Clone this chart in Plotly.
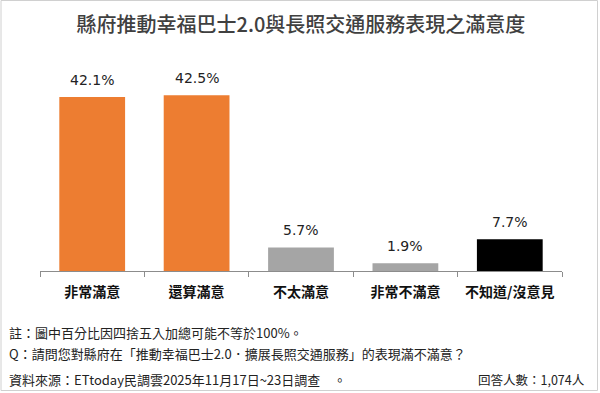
import plotly.graph_objects as go

categories = ["非常滿意", "還算滿意", "不太滿意", "非常不滿意", "不知道/沒意見"]
values = [42.1, 42.5, 5.7, 1.9, 7.7]
colors = ["#ED7D31", "#ED7D31", "#A5A5A5", "#A5A5A5", "#000000"]
value_labels = [f"{v:.1f}%" for v in values]

title_text = "縣府推動幸福巴士2.0與長照交通服務表現之滿意度"
note1 = "註：圖中百分比因四捨五入加總可能不等於100%。"
note2 = "Q：請問您對縣府在「推動幸福巴士2.0．擴展長照交通服務」的表現滿不滿意？"
note3 = "資料來源：ETtoday民調雲2025年11月17日~23日調查　。"
note4 = "回答人數：1,074人"

CJK = "Noto Sans CJK TC"
L, R, T, B = 40, 38, 60, 122
W, H = 600, 393
pw, ph = W - L - R, H - T - B

def px(x):
    return (x - L) / pw

def py(y):
    return (H - B - y) / ph

fig = go.Figure()
fig.add_trace(go.Bar(
    x=categories, y=values, marker=dict(color=colors, line=dict(width=0)),
    hoverinfo="skip", showlegend=False,
))

for c, v, t in zip(categories, values, value_labels):
    fig.add_annotation(x=c, y=v, text=t, showarrow=False, yanchor="bottom",
                       yshift=7, font=dict(family="DejaVu Sans", size=14, color="#222222"))

for txt, y in [(note1, 332), (note2, 353), (note3, 379)]:
    fig.add_annotation(xref="paper", yref="paper", x=px(7), y=py(y), text=txt,
                       showarrow=False, xanchor="left", yanchor="middle",
                       font=dict(family=CJK, size=13, color="#222222"))
fig.add_annotation(xref="paper", yref="paper", x=px(587), y=py(379), text=note4,
                   showarrow=False, xanchor="right", yanchor="middle",
                   font=dict(family=CJK, size=12.5, color="#222222"))

fig.add_shape(type="rect", xref="paper", yref="paper",
              x0=px(1), x1=px(597.5), y0=py(390.5), y1=py(0.5),
              line=dict(color="#D0D0D0", width=1), fillcolor="rgba(0,0,0,0)", layer="below")

fig.update_layout(
    width=W, height=H,
    margin=dict(l=L, r=R, t=T, b=B),
    paper_bgcolor="white", plot_bgcolor="white",
    title=dict(text=title_text, x=0.5, xanchor="center", xref="paper",
               y=1 - 25 / H, yanchor="middle",
               font=dict(family=CJK, size=20, color="#404040", weight=500)),
    bargap=0.37,
    xaxis=dict(showline=True, linecolor="#8C8C8C", linewidth=1,
               ticks="outside", tickson="boundaries", ticklen=5, tickcolor="#8C8C8C",
               tickfont=dict(family=CJK, size=14, color="#111111", weight="bold"),
               ticklabelstandoff=8, showgrid=False, fixedrange=True),
    yaxis=dict(range=[0, ph / 4.134], visible=False, showgrid=False, fixedrange=True),
)

fig.write_html("out.html", config={"displayModeBar": False},
               post_script="document.body.style.margin='0';document.body.style.overflow='hidden';")
